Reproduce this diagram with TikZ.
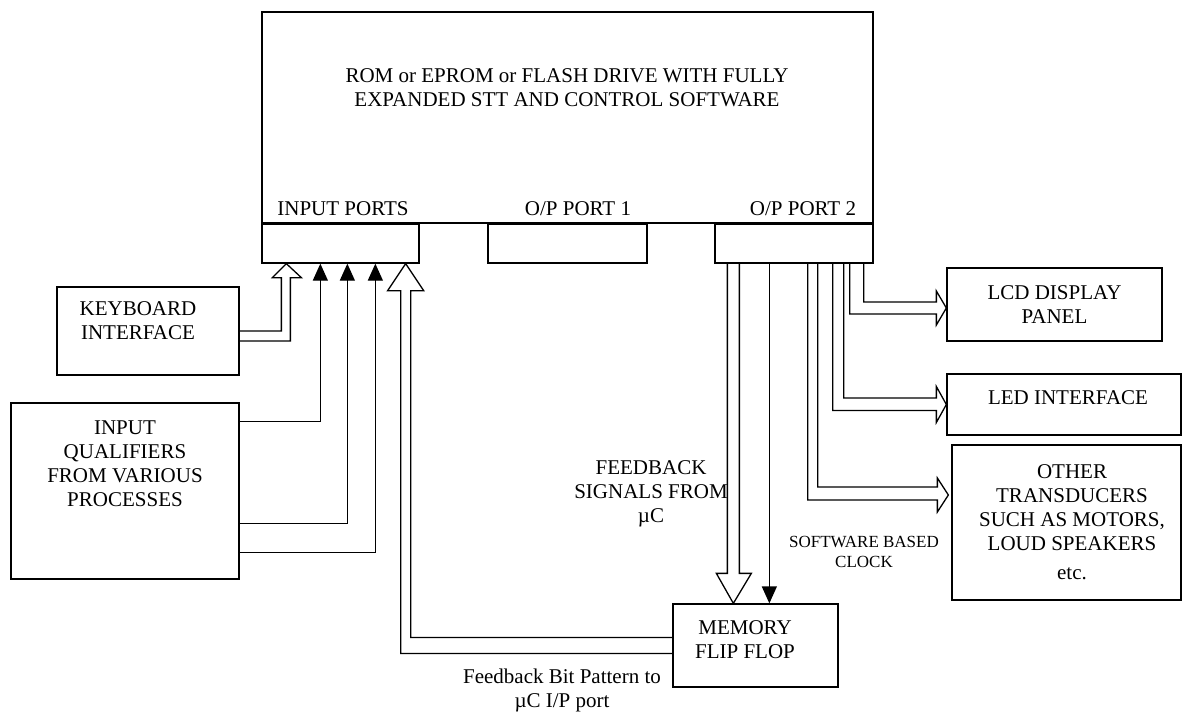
\documentclass[tikz,border=0pt]{standalone}
\usepackage{fontspec}
\setmainfont{Liberation Serif}
\usetikzlibrary{arrows.meta,calc}

\begin{document}
\begin{tikzpicture}[
  x=1pt, y=-1pt, line width=1.3pt,
  font=\fontsize{21}{24}\selectfont,
  blk/.style={draw, inner sep=0pt},
  txt/.style={inner sep=0pt, align=center},
  sig/.style={-{Triangle[length=17pt,width=15pt]}},
  hollow/.style={line join=miter}
]
\useasboundingbox (0,0) rectangle (1183,712);

\node[blk, minimum width=611pt, minimum height=211pt] (rom) at (567.5,117.5) {};
\node[blk, minimum width=157pt, minimum height=39pt] (inport) at (340.5,243.5) {};
\node[blk, minimum width=159pt, minimum height=39pt] (op1) at (567.5,243.5) {};
\node[blk, minimum width=158pt, minimum height=39pt] (op2) at (794,243.5) {};
\node[blk, minimum width=182pt, minimum height=88pt] (kbd) at (148,331) {};
\node[blk, minimum width=228pt, minimum height=176pt] (qual) at (125,491) {};
\node[blk, minimum width=215pt, minimum height=73pt, align=center] (lcd) at (1054.5,304.5) {LCD DISPLAY\\PANEL};
\node[blk, minimum width=234pt, minimum height=61pt] (led) at (1064,404.5) {};
\node[blk, minimum width=229pt, minimum height=155pt] (other) at (1066.5,522.5) {};
\node[blk, minimum width=165pt, minimum height=83pt] (mem) at (755.5,645.5) {};

\node[txt] (romtxt) at (567,88) {ROM or EPROM or FLASH DRIVE WITH FULLY\\EXPANDED STT AND CONTROL SOFTWARE};
\node[txt, anchor=base] (inlbl) at (343,215) {INPUT PORTS};
\node[txt, anchor=base] (op1lbl) at (578,215) {O/P PORT 1};
\node[txt, anchor=base] (op2lbl) at (803,215) {O/P PORT 2};
\node[txt] (kbdtxt) at (138,321) {KEYBOARD\\INTERFACE};
\node[txt] (qualtxt) at (125,464) {INPUT\\QUALIFIERS\\FROM VARIOUS\\PROCESSES};
\node[txt, anchor=base] (ledtxt) at (1068,404) {LED INTERFACE};
\node[txt] (othtxt) at (1072,522) {OTHER\\TRANSDUCERS\\SUCH AS MOTORS,\\LOUD SPEAKERS\\[5pt]etc.};
\node[txt] (memtxt) at (745,640) {MEMORY\\FLIP FLOP};
\node[txt] (fbsig) at (651,494) {FEEDBACK\\SIGNALS FROM\\µC};
\node[txt, font=\fontsize{17}{20}\selectfont] (clk) at (864,552) {SOFTWARE BASED\\CLOCK};
\node[txt] (fbbit) at (562,690) {Feedback Bit Pattern to\\µC I/P port};

\coordinate (kbtip) at ($(inport.south west)+(25,0)$);
\coordinate (fbtip) at ($(inport.south east)+(-14,0)$);
\coordinate (mtip) at ($(mem.north west)+(61,0)$);
\coordinate (lcdtip) at ($(lcd.west)+(0,3.5)$);
\coordinate (othtip) at ($(other.west)+(-3,-27.5)$);
\coordinate (clkout) at ($(op2.south west)+(55,0)$);

\draw[hollow] (kbd.east) -| ($(kbtip)+(-5,14)$) -- ++(-9,0) -- (kbtip) -- ++(15,14) -- ++(-11,0) |- ($(kbd.east)+(0,10)$);
\draw[sig] ($(qual.north east)+(0,19)$) -| ($(inport.south west)+(59,0)$);
\draw[sig] ($(qual.north east)+(0,121)$) -| ($(inport.south west)+(86,0)$);
\draw[sig] ($(qual.north east)+(0,150)$) -| ($(inport.south west)+(114,0)$);
\draw[hollow] ($(mem.west)+(0,8)$) -| ($(fbtip)+(-5,27)$) -- ++(-13,0) -- (fbtip) -- ++(18,27) -- ++(-13,0) |- ($(mem.west)+(0,-8)$);

\draw[hollow] ($(op2.south west)+(13,0)$) -- ($(mtip)+(-6,-30)$) -- ++(-11,0) -- (mtip) -- ++(18,-30) -- ++(-12,0) -- ($(op2.south west)+(25,0)$);
\draw[sig] (clkout) -- (clkout |- mem.north);
\draw[hollow] ($(op2.south east)+(-10,0)$) |- ($(lcdtip)+(-10,-6)$) -- ++(0,-11) -- (lcdtip) -- ++(-10,17) -- ++(0,-11) -| ($(op2.south east)+(-24,0)$);
\draw[hollow] ($(op2.south east)+(-30,0)$) |- ($(led.west)+(-10,-6.5)$) -- ++(0,-11.5) -- (led.west) -- ++(-10,18) -- ++(0,-12) -| ($(op2.south east)+(-41,0)$);
\draw[hollow] ($(op2.south east)+(-56,0)$) |- ($(othtip)+(-11,-8)$) -- ++(0,-9) -- (othtip) -- ++(-11,17) -- ++(0,-12) -| ($(op2.south east)+(-66,0)$);
\end{tikzpicture}
\end{document}
